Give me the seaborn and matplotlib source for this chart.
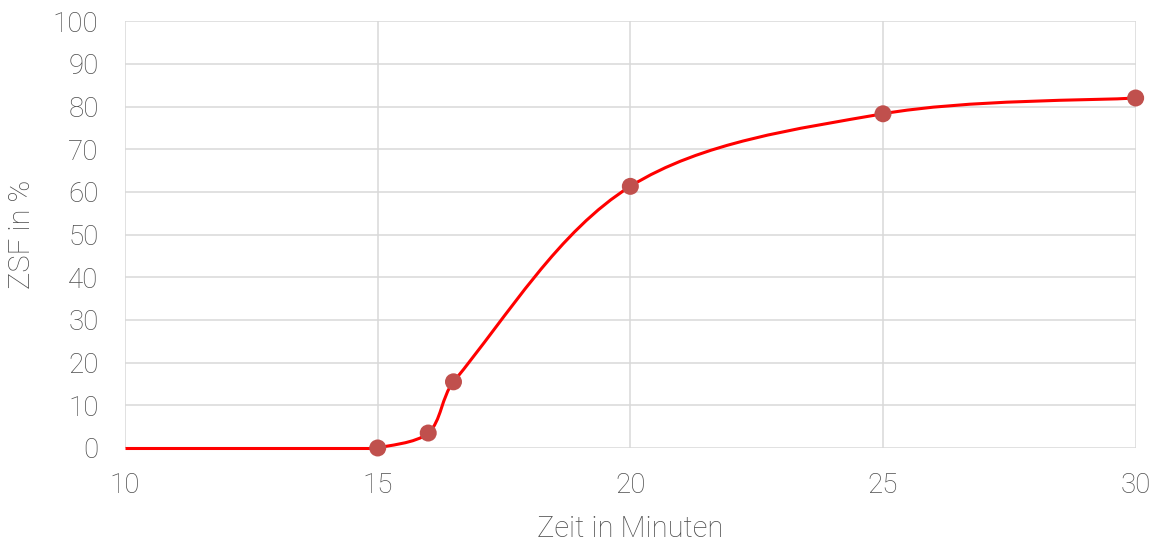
import numpy as np
import matplotlib.pyplot as plt
import seaborn as sns
from matplotlib.path import Path
from matplotlib.patches import PathPatch

# === Data ===
zeit = [10, 15, 16, 16.5, 20, 25, 30]
zsf = [0, 0, 3.5, 15.5, 61.3, 78.3, 82.0]
marker_mask = [False, True, True, True, True, True, True]
x_ticks = [10, 15, 20, 25, 30]
y_ticks = list(range(0, 101, 10))

# === Theme ===
sns.set_theme(style="whitegrid")
plt.rcParams['font.family'] = ['Roboto', 'DejaVu Sans']
text_color = '#4d4d4d'
grid_color = '#d9d9d9'

fig = plt.figure(figsize=(11.6, 5.43), dpi=100)
ax = fig.add_axes([0.1078, 0.175, 0.979 - 0.1078, 0.961 - 0.175])
ax.set_xlim(10, 30)
ax.set_ylim(0, 100)


# === Smoothed line (bezier with chord-length scaled tangents, screen space) ===
def smooth_path(xs, ys):
    pts = ax.transData.transform(np.column_stack([xs, ys]).astype(float))
    n = len(pts)
    verts = [pts[0]]
    codes = [Path.MOVETO]
    for i in range(n - 1):
        p0 = pts[i - 1] if i > 0 else pts[i]
        p1 = pts[i]
        p2 = pts[i + 1]
        p3 = pts[i + 2] if i + 2 < n else pts[i + 1]
        d01 = np.linalg.norm(p1 - p0)
        d12 = np.linalg.norm(p2 - p1)
        d23 = np.linalg.norm(p3 - p2)
        f1 = d12 / (d01 + d12) if d01 > 0 else 0.5
        f2 = d12 / (d12 + d23) if d23 > 0 else 0.5
        c1 = p1 + (p2 - p0) * f1 / 3.0
        c2 = p2 - (p3 - p1) * f2 / 3.0
        verts += [c1, c2, p2]
        codes += [Path.CURVE4] * 3
    verts = ax.transData.inverted().transform(np.array(verts))
    return Path(verts, codes)


# flat start segment then smooth from the first measured point
ax.plot(zeit[:2], zsf[:2], color='#ff0000', lw=2.2, solid_capstyle='butt',
        zorder=3, clip_on=False)
patch = PathPatch(smooth_path(zeit[1:], zsf[1:]), facecolor='none',
                  edgecolor='#ff0000', lw=2.2, zorder=3, clip_on=False)
ax.add_patch(patch)

mx = [x for x, m in zip(zeit, marker_mask) if m]
my = [y for y, m in zip(zsf, marker_mask) if m]
sns.scatterplot(x=mx, y=my, color='#c0504d', s=150, edgecolor='none',
                zorder=4, ax=ax, clip_on=False)

# === Axes styling ===
ax.set_xticks(x_ticks)
ax.set_yticks(y_ticks)
ax.grid(True, color=grid_color, lw=1.1)
for s in ax.spines.values():
    s.set_visible(False)
ax.tick_params(axis='both', length=0, labelsize=20, colors=text_color)
ax.tick_params(axis='x', pad=17)
ax.tick_params(axis='y', pad=19)
for lab in ax.get_xticklabels() + ax.get_yticklabels():
    lab.set_fontweight('light')

ax.set_xlabel("Zeit in Minuten", fontsize=21, color=text_color,
              fontweight='light', labelpad=12)
ax.set_ylabel("ZSF in %", fontsize=21, color=text_color,
              fontweight='light', labelpad=12)

plt.savefig("out.png", dpi=100)
plt.close()
